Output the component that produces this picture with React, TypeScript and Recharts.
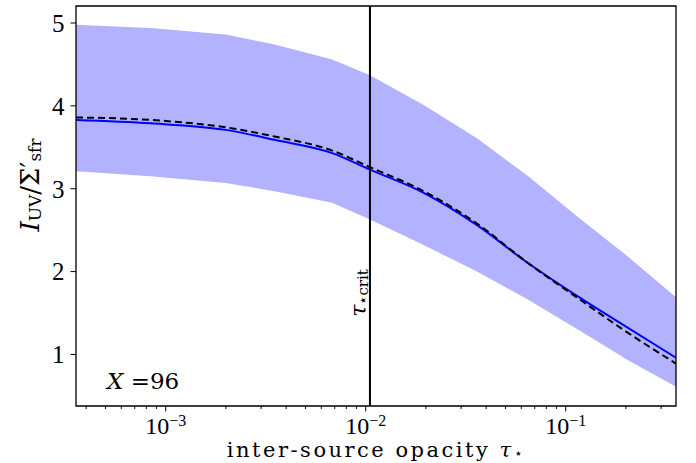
import React from "react";
import { Area, ComposedChart, Line, ReferenceArea, ReferenceLine, XAxis, YAxis } from "recharts";

// inter-source opacity samples (log spaced)
const tau = [3.56e-4, 8.4e-4, 2e-3, 3.5e-3, 6.8e-3, 1.05e-2, 1.95e-2, 3.6e-2, 6.5e-2, 0.115, 0.205, 0.356];
const bandUpper = [4.98, 4.94, 4.86, 4.74, 4.56, 4.37, 4.01, 3.61, 3.15, 2.66, 2.18, 1.69];
const bandLower = [3.21, 3.15, 3.07, 2.97, 2.83, 2.63, 2.32, 2.0, 1.66, 1.3, 0.93, 0.61];
const model = [3.83, 3.79, 3.71, 3.59, 3.43, 3.23, 2.95, 2.56, 2.1, 1.7, 1.32, 0.96];
const approx = [3.86, 3.83, 3.74, 3.63, 3.46, 3.26, 2.97, 2.58, 2.1, 1.68, 1.26, 0.89];

const tauCrit = 0.0105;
const xDomain = [3.56e-4, 0.356];
const yDomain = [0.378, 5.205];
const yTicks = [1, 2, 3, 4, 5];
const majorTicks = [1e-3, 1e-2, 1e-1];
const minorTicks = [
  4e-4, 5e-4, 6e-4, 7e-4, 8e-4, 9e-4,
  2e-3, 3e-3, 4e-3, 5e-3, 6e-3, 7e-3, 8e-3, 9e-3,
  2e-2, 3e-2, 4e-2, 5e-2, 6e-2, 7e-2, 8e-2, 9e-2,
  0.2, 0.3,
];

const FONT = "'Liberation Serif', 'DejaVu Serif', serif";
const LABEL_FONT = "'DejaVu Serif', serif";

const data = tau.map((t, i) => ({
  tau: t,
  band: [bandLower[i], bandUpper[i]],
  model: model[i],
  approx: approx[i],
}));

const XTick = (props: any) => {
  const { x, y, payload } = props;
  const lg = Math.log10(payload.value);
  const major = Math.abs(lg - Math.round(lg)) < 1e-6;
  return (
    <g>
      <line x1={x} x2={x} y1={y} y2={y + (major ? 5.5 : 3)} stroke="#000" strokeWidth={1} />
      {major && (
        <text x={x} y={y + 28} textAnchor="middle" fontFamily={FONT} fontSize={24} fill="#000">
          10
          <tspan dy={-8} fontSize={16}>
            {"\u2212" + Math.abs(Math.round(lg))}
          </tspan>
        </text>
      )}
    </g>
  );
};

const CritLabel = (props: any) => {
  const vb = props.viewBox || {};
  const x = vb.x - 12;
  const y = 293;
  return (
    <text
      x={x}
      y={y}
      transform={`rotate(-90, ${x}, ${y})`}
      textAnchor="middle"
      dominantBaseline="central"
      fontFamily={LABEL_FONT}
      fontSize={22}
      fill="#000"
    >
      <tspan fontStyle="italic">τ</tspan>
      <tspan fontSize={15} dy={5}>⋆crit</tspan>
    </text>
  );
};

export default function App() {
  return (
    <div style={{ position: "absolute", left: 0, top: 0, width: 696, height: 463, background: "#fff" }}>
      <ComposedChart width={696} height={463} data={data} margin={{ top: 6, right: 20, bottom: 0, left: 0 }}>
        <XAxis
          dataKey="tau"
          type="number"
          scale="log"
          domain={xDomain}
          allowDataOverflow
          ticks={[...majorTicks, ...minorTicks]}
          tick={<XTick />}
          tickLine={false}
          tickSize={0}
          tickMargin={0}
          axisLine={false}
          height={57}
          interval={0}
        />
        <YAxis
          type="number"
          domain={yDomain}
          allowDataOverflow
          ticks={yTicks}
          width={76}
          tickSize={5.5}
          tickMargin={6}
          tickLine={{ stroke: "#000" }}
          axisLine={false}
          tick={{ fill: "#000", fontSize: 25, fontFamily: FONT }}
        />
        <Area
          dataKey="band"
          type="linear"
          stroke="none"
          fill="#0000ff"
          fillOpacity={0.3}
          isAnimationActive={false}
        />
        <Line dataKey="model" type="monotone" stroke="#0000ff" strokeWidth={2} dot={false} isAnimationActive={false} />
        <Line
          dataKey="approx"
          type="monotone"
          stroke="#000"
          strokeWidth={2}
          strokeDasharray="7 4"
          dot={false}
          isAnimationActive={false}
        />
        <ReferenceLine x={tauCrit} stroke="#000" strokeWidth={2} label={<CritLabel />} />
        <ReferenceArea
          x1={xDomain[0]}
          x2={xDomain[1]}
          y1={yDomain[0]}
          y2={yDomain[1]}
          fill="none"
          stroke="#000"
          strokeWidth={1.3}
          ifOverflow="visible"
        />
        <text x={107} y={389} fontFamily={LABEL_FONT} fontSize={23} fill="#000">
          <tspan fontStyle="italic">X</tspan> =96
        </text>
        <text
          x={376}
          y={457}
          textAnchor="middle"
          fontFamily={LABEL_FONT}
          fontSize={21}
          letterSpacing={2.5}
          fill="#000"
        >
          inter-source opacity <tspan fontStyle="italic">τ</tspan>
          <tspan fontSize={14} dy={1}>⋆</tspan>
        </text>
        <text
          x={30}
          y={185}
          transform="rotate(-90, 30, 185)"
          textAnchor="middle"
          dominantBaseline="central"
          fontFamily={LABEL_FONT}
          fontSize={26}
          fill="#000"
        >
          <tspan fontStyle="italic">I</tspan>
          <tspan fontSize={17} dy={5}>UV</tspan>
          <tspan dy={-5}>/Σ′</tspan>
          <tspan fontSize={17} dy={5}>sfr</tspan>
        </text>
      </ComposedChart>
    </div>
  );
}
